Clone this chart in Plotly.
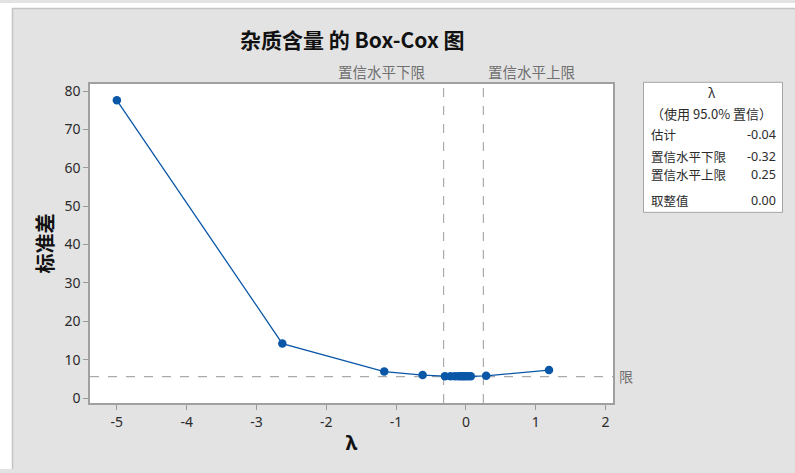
import plotly.graph_objects as go

# Box-Cox search points: lambda vs. standard deviation of transformed data
lambdas = [-5.0, -2.63, -1.17, -0.62, -0.30, -0.22, -0.16, -0.11, -0.07, -0.04, -0.01, 0.03, 0.07, 0.29, 1.19]
std_devs = [77.6, 14.2, 6.9, 6.0, 5.72, 5.70, 5.68, 5.67, 5.66, 5.66, 5.66, 5.67, 5.69, 5.8, 7.3]

ci_lower = -0.32
ci_upper = 0.25
estimate = -0.04
rounded = 0.00
limit_sd = 5.6

x_ticks = [-5, -4, -3, -2, -1, 0, 1, 2]
y_ticks = [0, 10, 20, 30, 40, 50, 60, 70, 80]

W, H = 795, 473
BG = "#e3e3e3"
BLUE = "#0a57a8"
GRID_GRAY = "#ababab"
TXT = "#2b2b2b"
FONT = "Noto Sans, Noto Sans CJK SC, sans-serif"
CJK = "Noto Sans CJK SC, Noto Sans, sans-serif"


def px(x):
    return x / W


def py(y):
    return 1 - y / H


fig = go.Figure()
fig.add_trace(go.Scatter(
    x=lambdas, y=std_devs, mode="lines+markers",
    line=dict(color=BLUE, width=1.3),
    marker=dict(color=BLUE, size=8.5, symbol="circle"),
    hoverinfo="x+y", showlegend=False,
))

shapes = []
# white strips outside the gray panel, and the panel edge
shapes.append(dict(type="rect", xref="paper", yref="paper", x0=0, x1=px(12), y0=0, y1=1,
                   fillcolor="white", line=dict(width=0), layer="below"))
shapes.append(dict(type="rect", xref="paper", yref="paper", x0=0, x1=1, y0=py(5), y1=1,
                   fillcolor="white", line=dict(width=0), layer="below"))
shapes.append(dict(type="line", xref="paper", yref="paper", x0=px(12.5), x1=px(12.5), y0=0, y1=py(5),
                   line=dict(color="#c4c4c4", width=1.5)))
shapes.append(dict(type="line", xref="paper", yref="paper", x0=px(12), x1=1, y0=py(5.5), y1=py(5.5),
                   line=dict(color="#c4c4c4", width=1.5)))

# confidence interval limits
for v in (ci_lower, ci_upper):
    shapes.append(dict(type="line", xref="x", yref="y domain", x0=v, x1=v, y0=0, y1=1,
                       line=dict(color=GRID_GRAY, width=1.2, dash="dash"), layer="below"))
# limit line for the standard deviation
shapes.append(dict(type="line", xref="x domain", yref="y", x0=0, x1=1, y0=limit_sd, y1=limit_sd,
                   line=dict(color=GRID_GRAY, width=1.2, dash="dash"), layer="below"))

# summary box
shapes.append(dict(type="rect", xref="paper", yref="paper", x0=px(643.5), x1=px(782.5),
                   y0=py(212.5), y1=py(80.5), fillcolor="white",
                   line=dict(color="#a4a4a4", width=1)))

annotations = []


def note(text, x, y, xanchor="center", size=13, color=TXT, bold=False, font=CJK):
    annotations.append(dict(
        text=f"<b>{text}</b>" if bold else text, x=px(x), y=py(y), xref="paper", yref="paper",
        xanchor=xanchor, yanchor="middle", showarrow=False, borderpad=0,
        font=dict(family=font, size=size, color=color),
    ))


note("杂质含量 的 Box-Cox 图", 352, 37, size=21, color="#111111", bold=True)
note("置信水平下限", 426, 70, xanchor="right", size=14.5, color="#707070")
note("置信水平上限", 487, 70, xanchor="left", size=14.5, color="#707070")
note("限", 618, 379, xanchor="left", size=14, color="#707070")

# summary box content
note("λ", 712, 91, size=13)
note("（使用 95.0% 置信）", 711, 112, size=13)
rows = [("估计", estimate, 133), ("置信水平下限", ci_lower, 155.5),
        ("置信水平上限", ci_upper, 174.5), ("取整值", rounded, 200)]
for label, val, yy in rows:
    note(label, 650, yy, xanchor="left", size=12.5)
    note(f"{val:.2f}", 777, yy, xanchor="right", size=12.5, font=FONT)

fig.update_layout(
    width=W, height=H,
    margin=dict(l=0, r=0, t=0, b=0),
    paper_bgcolor=BG, plot_bgcolor="white",
    shapes=shapes, annotations=annotations,
    xaxis=dict(
        domain=[px(90), px(613)], range=[-5.385, 2.107],
        tickmode="array", tickvals=x_ticks, ticktext=[str(t) for t in x_ticks],
        ticks="outside", ticklen=5, tickcolor="#9a9a9a",
        showline=True, linecolor="#a0a0a0", linewidth=1.5, mirror=True,
        showgrid=False, zeroline=False,
        tickfont=dict(family=FONT, size=14, color=TXT),
        title=dict(text="<b>λ</b>", font=dict(family=FONT, size=20, color="#111111"), standoff=6),
    ),
    yaxis=dict(
        domain=[py(406), py(82)], range=[-1.28, 81.9],
        tickmode="array", tickvals=y_ticks, ticktext=[str(t) for t in y_ticks],
        ticks="outside", ticklen=5, tickcolor="#9a9a9a",
        showline=True, linecolor="#a0a0a0", linewidth=1.5, mirror=True,
        showgrid=False, zeroline=False,
        tickfont=dict(family=FONT, size=14, color=TXT),
        title=dict(text="<b>标准差</b>", font=dict(family=CJK, size=20, color="#111111"), standoff=5),
    ),
)

fig.write_html("out.html")
